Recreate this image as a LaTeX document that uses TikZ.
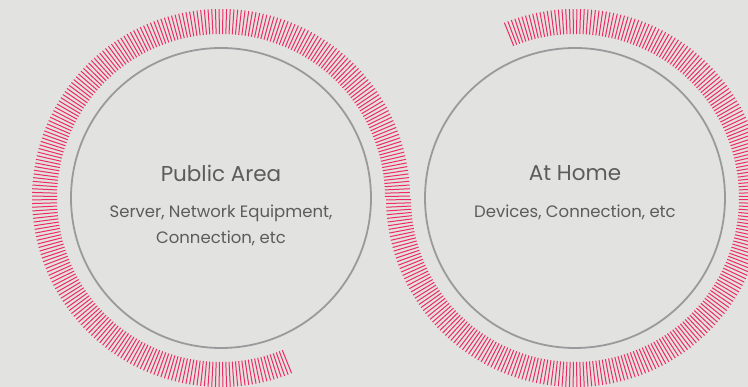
\documentclass[tikz,border=0pt]{standalone}
\usepackage{fontspec}
\setmainfont{Poppins}
\usetikzlibrary{positioning}
\definecolor{bg}{HTML}{E2E2E0}
\definecolor{ring}{HTML}{9A9A9C}
\definecolor{tickred}{HTML}{EE2B63}
\definecolor{txt}{HTML}{5C5C5C}
\begin{document}
\begin{tikzpicture}[x=1pt,y=1pt]
    \tikzstyle{every node}=[node distance=354pt]
    \tikzstyle{area}=[circle,draw=ring,line width=1.8pt,minimum size=300pt,inner sep=0pt]
    \tikzstyle{tickmark}=[draw=tickred,line width=1pt]
    \tikzstyle{title}=[text=txt,font=\fontsize{21.5}{26}\selectfont]
    \tikzstyle{detail}=[text=txt,font=\fontsize{16.5}{26}\selectfont,align=center]

    \fill[bg] (0,0) rectangle (748,387);
    \useasboundingbox (0,0) rectangle (748,387);

    \node (pa) [area] at (221,189) {};
    \node (ah) [area,right of=pa] {};

    % ticks round the two circles
    \foreach \a in {0.5625,1.6875,...,292.5}
        \draw[tickmark] (pa.center) ++(\a:164pt) -- ++(\a:25pt);
    \foreach \a in {180.5625,181.6875,...,472.5}
        \draw[tickmark] (ah.center) ++(\a:164pt) -- ++(\a:25pt);

    \node (pat) [title] at ([yshift=25pt]pa.center) {Public Area};
    \node (pad) [detail] at ([yshift=-27pt]pa.center) {Server, Network Equipment,\\Connection, etc};
    \node (aht) [title] at ([yshift=25pt]ah.center) {At Home};
    \node (ahd) [detail] at ([yshift=-14pt]ah.center) {Devices, Connection, etc};
\end{tikzpicture}
\end{document}
